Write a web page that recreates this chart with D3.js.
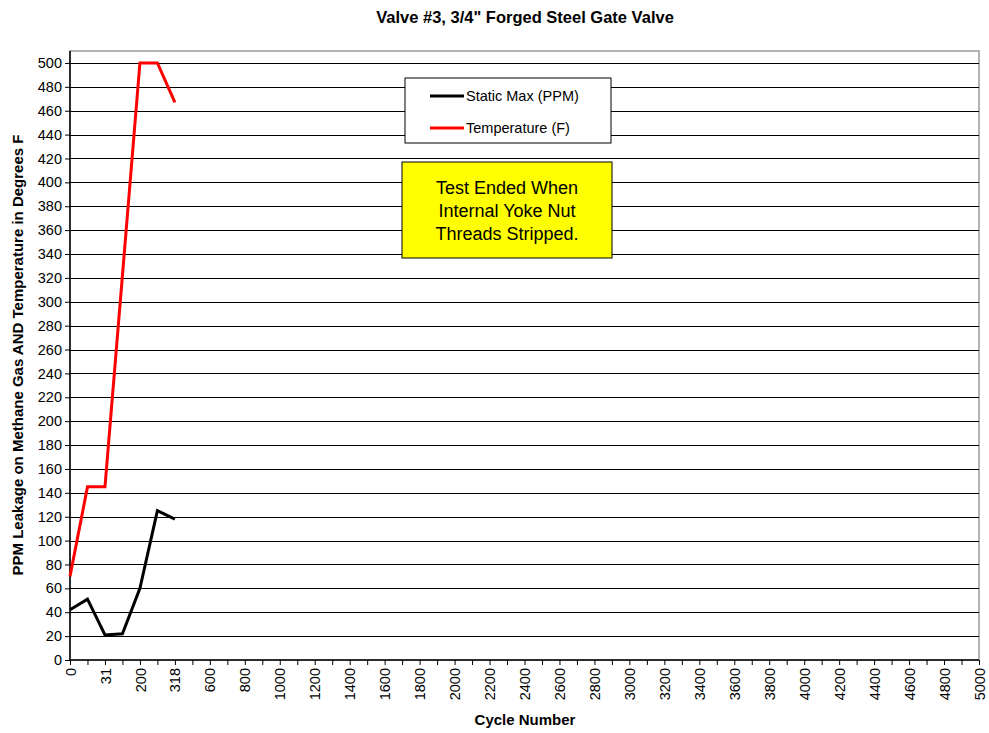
<!DOCTYPE html>
<html><head><meta charset="utf-8">
<script src="https://cdn.jsdelivr.net/npm/d3@7"></script>
<style>body{margin:0;background:#fff}text{font-family:"Liberation Sans",Arial,sans-serif}</style>
</head><body><svg id="c" width="989" height="733"></svg>
<script>
const xLabels = ["0","","31","","200","","318","600","800","1000","1200","1400","1600","1800","2000","2200","2400","2600","2800","3000","3200","3400","3600","3800","4000","4200","4400","4600","4800","5000"];
const staticMax = [42, 51, 21, 22, 60, 125, 118];
const temperature = [70, 145, 145, 322, 500, 500, 467];
const yTicks = d3.range(0, 501, 20);
const seriesNames = ["Static Max (PPM)", "Temperature (F)"];
const seriesColors = ["#000000", "#ff0000"];

// full category list: one unlabelled category between each labelled one
const cats = [];
xLabels.filter(l => l !== "").forEach((l, i, arr) => { cats.push(l); if (i < arr.length - 1) cats.push(""); });

const svg = d3.select("#c");
const L = 70, R = 979, T = 51, B = 660;
const x = d3.scaleLinear().domain([0, cats.length - 1]).range([L, R]);
const y = d3.scaleLinear().domain([0, 510]).range([B, T]);

// plot border
svg.append("rect").attr("x", L).attr("y", T).attr("width", R - L).attr("height", B - T)
  .attr("fill", "#fff").attr("stroke", "#999").attr("stroke-width", 1.5);

// gridlines
svg.append("g").selectAll("line").data(yTicks.filter(d => d > 0)).join("line")
  .attr("x1", L).attr("x2", R).attr("y1", d => Math.round(y(d)) + 0.5).attr("y2", d => Math.round(y(d)) + 0.5)
  .attr("stroke", "#000").attr("stroke-width", 1);

// y axis
const yAx = svg.append("g").attr("transform", `translate(${L},0)`)
  .call(d3.axisLeft(y).tickValues(yTicks).tickSize(5).tickPadding(3));
yAx.select(".domain").attr("stroke", "#000").attr("stroke-width", 1.5).attr("d", `M-0,${B}V${T}`);
yAx.selectAll("text").attr("font-size", 14.5).attr("fill", "#000");
yAx.selectAll("line").attr("stroke", "#000");

// x axis
const xAx = svg.append("g").attr("transform", `translate(0,${B})`)
  .call(d3.axisBottom(x).tickValues(d3.range(cats.length)).tickSize(5).tickFormat(i => cats[i]));
xAx.select(".domain").attr("stroke", "#000").attr("stroke-width", 1.5).attr("d", `M${L},0H${R}`);
xAx.selectAll("line").attr("stroke", "#000");
xAx.selectAll("text").attr("font-size", 14.5).attr("fill", "#000")
  .attr("transform", "rotate(-90)").attr("text-anchor", "end").attr("dy", "0.35em").attr("x", -8).attr("y", 0);

// lines
const line = d3.line().x((d, i) => x(i)).y(d => y(d));
[staticMax, temperature].forEach((s, k) => {
  svg.append("path").datum(s).attr("d", line).attr("fill", "none")
    .attr("stroke", seriesColors[k]).attr("stroke-width", 3).attr("stroke-linejoin", "miter");
});

// legend
const lg = svg.append("g");
lg.append("rect").attr("x", 405).attr("y", 78).attr("width", 206).attr("height", 65)
  .attr("fill", "#fff").attr("stroke", "#000").attr("stroke-width", 1);
seriesNames.forEach((n, k) => {
  const yy = 96 + k * 32;
  lg.append("line").attr("x1", 430).attr("x2", 464).attr("y1", yy).attr("y2", yy)
    .attr("stroke", seriesColors[k]).attr("stroke-width", 3);
  lg.append("text").attr("x", 466).attr("y", yy).attr("dy", "0.35em").attr("font-size", 14.5).text(n);
});

// annotation
const an = svg.append("g");
an.append("rect").attr("x", 402).attr("y", 162).attr("width", 210).attr("height", 96)
  .attr("fill", "#ffff00").attr("stroke", "#000").attr("stroke-width", 1);
["Test Ended When", "Internal Yoke Nut", "Threads Stripped."].forEach((t, i) => {
  an.append("text").attr("x", 507).attr("y", 188 + i * 23).attr("dy", "0.35em")
    .attr("text-anchor", "middle").attr("font-size", 18).text(t);
});

// titles
svg.append("text").attr("x", 525).attr("y", 23).attr("text-anchor", "middle")
  .attr("font-size", 16.5).attr("font-weight", "bold").text('Valve #3, 3/4" Forged Steel Gate Valve');
svg.append("text").attr("x", 525).attr("y", 725).attr("text-anchor", "middle")
  .attr("font-size", 15).attr("font-weight", "bold").text("Cycle Number");
svg.append("text").attr("transform", "translate(23,355) rotate(-90)").attr("text-anchor", "middle")
  .attr("font-size", 15).attr("font-weight", "bold").text("PPM Leakage on Methane Gas AND Temperature in Degrees F");
</script></body></html>
